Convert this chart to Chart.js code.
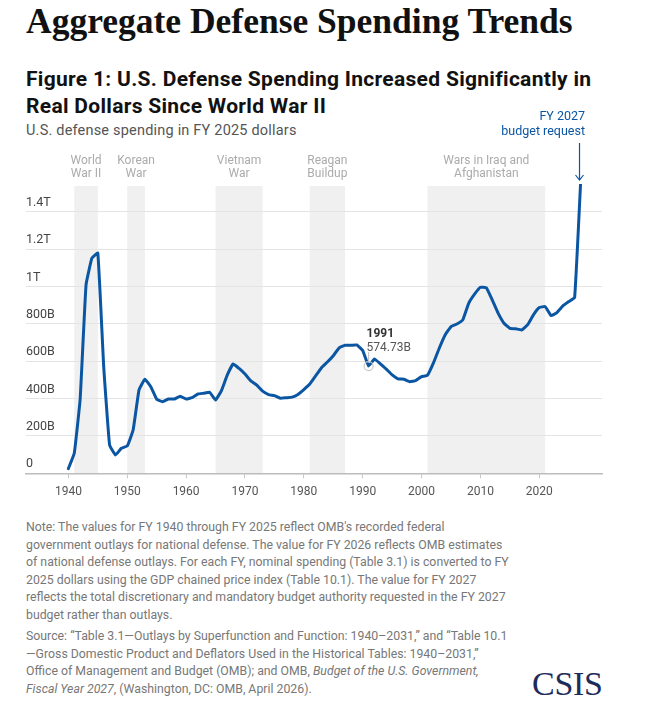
<!DOCTYPE html>
<html>
<head>
<meta charset="utf-8">
<script src="https://cdn.jsdelivr.net/npm/chart.js@4.4.1/dist/chart.umd.min.js"></script>
<style>
  body { margin: 0; width: 655px; height: 711px; background: #fff; position: relative; overflow: hidden; font-family: Roboto, "Noto Sans", sans-serif; }
  .title { position: absolute; left: 26px; top: 0; font-family: "Liberation Serif", serif; font-weight: bold; font-size: 35.5px; line-height: 42px; color: #111; white-space: nowrap; }
  .fig { position: absolute; left: 26px; top: 66px; font-weight: bold; font-size: 21px; line-height: 27px; letter-spacing: 0.3px; color: #111; white-space: nowrap; }
  .sub { position: absolute; left: 26px; top: 122px; font-size: 14.5px; line-height: 18px; letter-spacing: 0.2px; color: #555; white-space: nowrap; }
  #chartWrap { position: absolute; left: 0; top: 100px; width: 655px; height: 410px; }
  .note { position: absolute; left: 26px; top: 519px; font-size: 12.3px; line-height: 17.5px; color: #777; white-space: nowrap; }
  .note p { margin: 0 0 4px 0; }
  .logo { position: absolute; left: 532px; top: 665px; font-family: "Liberation Serif", serif; font-size: 34px; line-height: 38px; color: #1e2c5b; letter-spacing: -0.3px; }
</style>
</head>
<body>
<div class="title">Aggregate Defense Spending Trends</div>
<div class="fig">Figure 1: U.S. Defense Spending Increased Significantly in<br>Real Dollars Since World War II</div>
<div class="sub">U.S. defense spending in FY 2025 dollars</div>
<div id="chartWrap"><canvas id="defense_chart" width="655" height="410"></canvas></div>
<div class="note">
  <p>Note: The values for FY 1940 through FY 2025 reflect OMB's recorded federal<br>
  government outlays for national defense. The value for FY 2026 reflects OMB estimates<br>
  of national defense outlays. For each FY, nominal spending (Table 3.1) is converted to FY<br>
  2025 dollars using the GDP chained price index (Table 10.1). The value for FY 2027<br>
  reflects the total discretionary and mandatory budget authority requested in the FY 2027<br>
  budget rather than outlays.</p>
  <p>Source: “Table 3.1—Outlays by Superfunction and Function: 1940–2031,” and “Table 10.1<br>
  —Gross Domestic Product and Deflators Used in the Historical Tables: 1940–2031,”<br>
  Office of Management and Budget (OMB); and OMB, <i>Budget of the U.S. Government,</i><br>
  <i>Fiscal Year 2027</i>, (Washington, DC: OMB, April 2026).</p>
</div>
<div class="logo">CSIS</div>

<script>
// fiscal years
const years = [
  1940, 1941, 1942, 1943, 1944, 1945, 1946, 1947, 1948, 1949,
  1950, 1951, 1952, 1953, 1954, 1955, 1956, 1957, 1958, 1959,
  1960, 1961, 1962, 1963, 1964, 1965, 1966, 1967, 1968, 1969,
  1970, 1971, 1972, 1973, 1974, 1975, 1976, 1977, 1978, 1979,
  1980, 1981, 1982, 1983, 1984, 1985, 1986, 1987, 1988, 1989,
  1990, 1991, 1992, 1993, 1994, 1995, 1996, 1997, 1998, 1999,
  2000, 2001, 2002, 2003, 2004, 2005, 2006, 2007, 2008, 2009,
  2010, 2011, 2012, 2013, 2014, 2015, 2016, 2017, 2018, 2019,
  2020, 2021, 2022, 2023, 2024, 2025, 2026, 2027
];

// defense spending, billions of FY 2025 dollars
const spending = [
  25, 107, 398, 1010, 1153, 1180, 572, 152, 98, 134,
  146, 232, 447, 504, 464, 397, 384, 398, 398, 413,
  398, 405, 425, 429, 434, 393, 443, 527, 586, 562,
  532, 495, 472, 440, 422, 416, 402, 405, 408, 422,
  448, 478, 522, 566, 596, 630, 672, 686, 686, 688,
  658, 574.73, 613, 586, 558, 527, 506, 504, 491, 497,
  518, 525, 590, 670, 741, 786, 800, 822, 911, 960,
  997, 994, 929, 858, 804, 777, 774, 768, 795, 849,
  888, 893, 845, 861, 897, 920, 942, 1546
];

const xTicks = [1940, 1950, 1960, 1970, 1980, 1990, 2000, 2010, 2020];
const yTicks = [0, 200, 400, 600, 800, 1000, 1200, 1400];
const yTickLabels = ["0", "200B", "400B", "600B", "800B", "1T", "1.2T", "1.4T"];

// shaded periods
const bandStart = [1941, 1950, 1965, 1981, 2001];
const bandEnd = [1945, 1953, 1973, 1987, 2021];
const bandLabels = [
  ["World", "War II"],
  ["Korean", "War"],
  ["Vietnam", "War"],
  ["Reagan", "Buildup"],
  ["Wars in Iraq and", "Afghanistan"]
];

const highlightYear = 1991;
const requestYear = 2027;

const BLUE = "#0b56a3";
const FONT = "Roboto, 'Noto Sans', sans-serif";

const bandsPlugin = {
  id: "bands",
  beforeDraw(chart) {
    const { ctx, chartArea, scales } = chart;
    ctx.save();
    ctx.fillStyle = "#f0f0f0";
    bandStart.forEach((s, i) => {
      const x1 = scales.x.getPixelForValue(s);
      const x2 = scales.x.getPixelForValue(bandEnd[i]);
      ctx.fillRect(x1, chartArea.top + 2, x2 - x1, chartArea.bottom - chartArea.top - 2);
    });
    ctx.restore();
  },
  afterDraw(chart) {
    const { ctx, chartArea, scales } = chart;
    ctx.save();
    ctx.font = "12px " + FONT;
    ctx.fillStyle = "#ababab";
    ctx.textAlign = "center";
    ctx.textBaseline = "middle";
    bandStart.forEach((s, i) => {
      const cx = scales.x.getPixelForValue((s + bandEnd[i]) / 2);
      ctx.fillText(bandLabels[i][0], cx, chartArea.top - 23);
      ctx.fillText(bandLabels[i][1], cx, chartArea.top - 10);
    });

    // 1991 callout
    const idx = years.indexOf(highlightYear);
    const hx = scales.x.getPixelForValue(highlightYear);
    const hy = scales.y.getPixelForValue(spending[idx]);
    ctx.strokeStyle = "#c8c8c8";
    ctx.lineWidth = 1.2;
    ctx.beginPath();
    ctx.arc(hx, hy, 4.5, 0, Math.PI * 2);
    ctx.stroke();
    ctx.beginPath();
    ctx.moveTo(hx, hy - 14);
    ctx.lineTo(hx, hy - 5);
    ctx.stroke();
    ctx.textAlign = "left";
    ctx.fillStyle = "#333";
    ctx.font = "bold 12px " + FONT;
    ctx.fillText(String(highlightYear), hx - 2, hy - 32);
    ctx.fillStyle = "#555";
    ctx.font = "12px " + FONT;
    ctx.fillText(spending[idx].toFixed(2) + "B", hx - 2, hy - 18);

    // FY 2027 arrow
    const rx = scales.x.getPixelForValue(requestYear) - 1;
    ctx.fillStyle = BLUE;
    ctx.textAlign = "right";
    ctx.font = "12.5px " + FONT;
    ctx.fillText("FY 2027", rx + 5.5, chartArea.top - 67);
    ctx.fillText("budget request", rx + 5.5, chartArea.top - 52);
    ctx.strokeStyle = BLUE;
    ctx.lineWidth = 1.2;
    ctx.beginPath();
    ctx.moveTo(rx, chartArea.top - 41);
    ctx.lineTo(rx, chartArea.top - 4);
    ctx.moveTo(rx - 4, chartArea.top - 9);
    ctx.lineTo(rx, chartArea.top - 4);
    ctx.lineTo(rx + 4, chartArea.top - 9);
    ctx.stroke();
    ctx.restore();
  }
};

const ctx = document.getElementById("defense_chart").getContext("2d");

new Chart(ctx, {
  type: "line",
  data: {
    datasets: [
      {
        label: "Defense spending",
        data: years.map((y, i) => ({ x: y, y: spending[i] })),
        borderColor: BLUE,
        borderWidth: 3,
        pointRadius: 0,
        tension: 0.1,
        borderJoinStyle: "round",
        borderCapStyle: "round",
        fill: false
      }
    ]
  },
  options: {
    responsive: false,
    animation: false,
    devicePixelRatio: 1,
    layout: { padding: { left: 26, right: 53, top: 84, bottom: 0 } },
    plugins: { legend: { display: false }, tooltip: { enabled: false } },
    scales: {
      x: {
        type: "linear",
        min: 1932.8,
        max: 2030.65,
        afterBuildTicks: (scale) => { scale.ticks = xTicks.map((v) => ({ value: v })); },
        afterFit: (scale) => { scale.height = 36.7; },
        grid: { drawOnChartArea: false, drawTicks: true, tickLength: 5, color: "#c8c8c8" },
        border: { display: true, color: "#bcbcbc", width: 1.5 },
        ticks: {
          padding: 6,
          color: "#555",
          font: { family: FONT, size: 12 },
          maxRotation: 0,
          autoSkip: false,
          callback: (v) => String(v)
        }
      },
      y: {
        min: 0,
        max: 1550,
        afterBuildTicks: (scale) => { scale.ticks = yTicks.map((v) => ({ value: v })); },
        afterFit: (scale) => { scale.width = 0; },
        grid: { drawTicks: false, color: "#e4e4e4", lineWidth: 1 },
        border: { display: false },
        ticks: {
          mirror: true,
          padding: 0,
          labelOffset: -9,
          color: "#444",
          font: { family: FONT, size: 12.5 },
          callback: (v) => yTickLabels[yTicks.indexOf(v)]
        }
      }
    }
  },
  plugins: [bandsPlugin]
});
</script>
</body>
</html>
